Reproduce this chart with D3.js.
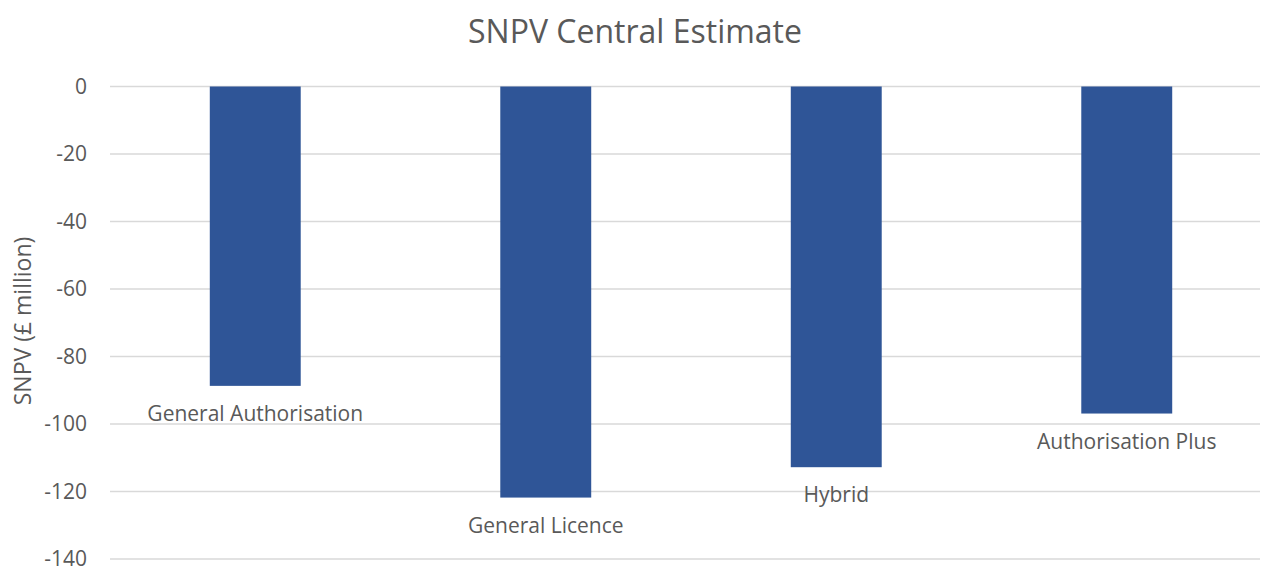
<!DOCTYPE html>
<html>
<head>
<meta charset="utf-8">
<script src="https://d3js.org/d3.v7.min.js"></script>
<style>
    body { margin: 0; background: #fff; }
    text { font-family: "Open Sans", sans-serif; fill: #595959; }
</style>
</head>
<body>
<script>
    // data
    var categories = ["General Authorisation", "General Licence", "Hybrid", "Authorisation Plus"];
    var snpv = [-88.7, -121.8, -112.8, -96.9];
    var yTicks = [0, -20, -40, -60, -80, -100, -120, -140];

    var width = 1261, height = 566;
    var plotLeft = 110, plotRight = 1272;
    var plotTop = 86.5, plotBottom = 559;

    var svg = d3.select("body").append("svg")
        .attr("width", width)
        .attr("height", height);

    var x = d3.scaleBand()
        .domain(categories)
        .range([plotLeft, plotRight])
        .paddingInner(0.687)
        .paddingOuter(0.3435);

    var y = d3.scaleLinear()
        .domain([0, -140])
        .range([plotTop, plotBottom]);

    // gridlines
    svg.append("g")
        .selectAll("line")
        .data(yTicks)
        .enter().append("line")
        .attr("x1", plotLeft)
        .attr("x2", 1260)
        .attr("y1", d => y(d))
        .attr("y2", d => y(d))
        .style("stroke", "#d9d9d9")
        .style("stroke-width", 1.3);

    // tick labels (plain hyphen, like the original)
    var yAxis = d3.axisLeft(y)
        .tickValues(yTicks)
        .tickFormat(d => String(d))
        .tickSize(0)
        .tickPadding(0);
    var yg = svg.append("g")
        .attr("transform", "translate(87,0)")
        .call(yAxis);
    yg.select(".domain").remove();
    yg.selectAll("text")
        .style("font-family", "'Open Sans', sans-serif")
        .style("font-size", "21px")
        .style("fill", "#595959");

    // bars
    svg.append("g")
        .selectAll("rect")
        .data(snpv)
        .enter().append("rect")
        .attr("x", (d, i) => x(categories[i]))
        .attr("width", x.bandwidth())
        .attr("y", y(0))
        .attr("height", d => y(d) - y(0))
        .style("fill", "#2f5597");

    // category labels under the bar ends
    svg.append("g")
        .selectAll("text")
        .data(snpv)
        .enter().append("text")
        .attr("x", (d, i) => x(categories[i]) + x.bandwidth() / 2)
        .attr("y", d => y(d) + 35)
        .attr("text-anchor", "middle")
        .style("font-size", "21px")
        .text((d, i) => categories[i]);

    // title
    svg.append("text")
        .attr("x", 635)
        .attr("y", 43)
        .attr("text-anchor", "middle")
        .style("font-size", "32px")
        .text("SNPV Central Estimate");

    // y axis title
    svg.append("text")
        .attr("transform", "translate(31,321) rotate(-90)")
        .attr("text-anchor", "middle")
        .style("font-size", "23px")
        .text("SNPV (£ million)");
</script>
</body>
</html>
